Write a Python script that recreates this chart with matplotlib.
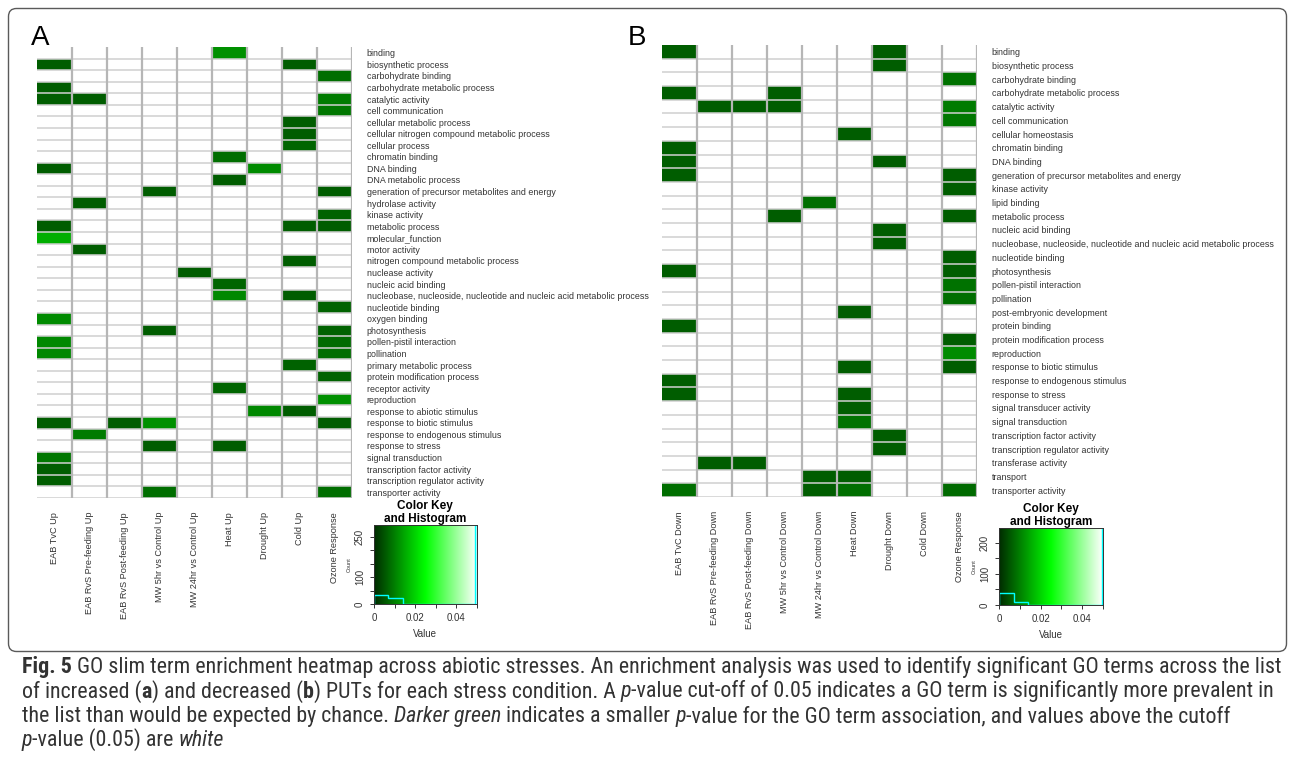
import logging
import numpy as np
import matplotlib
matplotlib.use("Agg")
import matplotlib.pyplot as plt
from matplotlib.colors import LinearSegmentedColormap, Normalize
from matplotlib.patches import FancyBboxPatch
from matplotlib import font_manager

logging.getLogger("matplotlib.font_manager").setLevel(logging.ERROR)

W, H = 1292, 770

# -----------------------------
# data
# -----------------------------
conditions_up = ["EAB TvC Up", "EAB RvS Pre-feeding Up", "EAB RvS Post-feeding Up",
                 "MW 5hr vs Control Up", "MW 24hr vs Control Up", "Heat Up",
                 "Drought Up", "Cold Up", "Ozone Response"]
conditions_down = ["EAB TvC Down", "EAB RvS Pre-feeding Down", "EAB RvS Post-feeding Down",
                   "MW 5hr vs Control Down", "MW 24hr vs Control Down", "Heat Down",
                   "Drought Down", "Cold Down", "Ozone Response"]

terms_up = ["binding", "biosynthetic process", "carbohydrate binding",
            "carbohydrate metabolic process", "catalytic activity", "cell communication",
            "cellular metabolic process", "cellular nitrogen compound metabolic process",
            "cellular process", "chromatin binding", "DNA binding", "DNA metabolic process",
            "generation of precursor metabolites and energy", "hydrolase activity",
            "kinase activity", "metabolic process", "molecular_function", "motor activity",
            "nitrogen compound metabolic process", "nuclease activity", "nucleic acid binding",
            "nucleobase, nucleoside, nucleotide and nucleic acid metabolic process",
            "nucleotide binding", "oxygen binding", "photosynthesis", "pollen-pistil interaction",
            "pollination", "primary metabolic process", "protein modification process",
            "receptor activity", "reproduction", "response to abiotic stimulus",
            "response to biotic stimulus", "response to endogenous stimulus",
            "response to stress", "signal transduction", "transcription factor activity",
            "transcription regulator activity", "transporter activity"]

terms_down = ["binding", "biosynthetic process", "carbohydrate binding",
              "carbohydrate metabolic process", "catalytic activity", "cell communication",
              "cellular homeostasis", "chromatin binding", "DNA binding",
              "generation of precursor metabolites and energy", "kinase activity",
              "lipid binding", "metabolic process", "nucleic acid binding",
              "nucleobase, nucleoside, nucleotide and nucleic acid metabolic process",
              "nucleotide binding", "photosynthesis", "pollen-pistil interaction", "pollination",
              "post-embryonic development", "protein binding", "protein modification process",
              "reproduction", "response to biotic stimulus", "response to endogenous stimulus",
              "response to stress", "signal transducer activity", "signal transduction",
              "transcription factor activity", "transcription regulator activity",
              "transferase activity", "transport", "transporter activity"]

ns = 1.0  # not significant (above the 0.05 cutoff)

pvals_up = [
    [ns, ns, ns, ns, ns, .012, ns, ns, ns],
    [.006, ns, ns, ns, ns, ns, ns, .006, ns],
    [ns, ns, ns, ns, ns, ns, ns, ns, .008],
    [.006, ns, ns, ns, ns, ns, ns, ns, ns],
    [.006, .006, ns, ns, ns, ns, ns, ns, .0095],
    [ns, ns, ns, ns, ns, ns, ns, ns, .009],
    [ns, ns, ns, ns, ns, ns, ns, .006, ns],
    [ns, ns, ns, ns, ns, ns, ns, .006, ns],
    [ns, ns, ns, ns, ns, ns, ns, .007, ns],
    [ns, ns, ns, ns, ns, .008, ns, ns, ns],
    [.006, ns, ns, ns, ns, ns, .0115, ns, ns],
    [ns, ns, ns, ns, ns, .006, ns, ns, ns],
    [ns, ns, ns, .006, ns, ns, ns, ns, .006],
    [ns, .006, ns, ns, ns, ns, ns, ns, ns],
    [ns, ns, ns, ns, ns, ns, ns, ns, .0065],
    [.006, ns, ns, ns, ns, ns, ns, .006, .006],
    [.0155, ns, ns, ns, ns, ns, ns, ns, ns],
    [ns, .006, ns, ns, ns, ns, ns, ns, ns],
    [ns, ns, ns, ns, ns, ns, ns, .006, ns],
    [ns, ns, ns, ns, .006, ns, ns, ns, ns],
    [ns, ns, ns, ns, ns, .007, ns, ns, ns],
    [ns, ns, ns, ns, ns, .011, ns, .006, ns],
    [ns, ns, ns, ns, ns, ns, ns, ns, .0065],
    [.0115, ns, ns, ns, ns, ns, ns, ns, ns],
    [ns, ns, ns, .006, ns, ns, ns, ns, .0065],
    [.011, ns, ns, ns, ns, ns, ns, ns, .0075],
    [.011, ns, ns, ns, ns, ns, ns, ns, .008],
    [ns, ns, ns, ns, ns, ns, ns, .0065, ns],
    [ns, ns, ns, ns, ns, ns, ns, ns, .0065],
    [ns, ns, ns, ns, ns, .007, ns, ns, ns],
    [ns, ns, ns, ns, ns, ns, ns, ns, .012],
    [ns, ns, ns, ns, ns, ns, .011, .006, ns],
    [.006, ns, .006, .012, ns, ns, ns, ns, .006],
    [ns, .0095, ns, ns, ns, ns, ns, ns, ns],
    [ns, ns, ns, .006, ns, .006, ns, ns, ns],
    [.009, ns, ns, ns, ns, ns, ns, ns, ns],
    [.006, ns, ns, ns, ns, ns, ns, ns, ns],
    [.006, ns, ns, ns, ns, ns, ns, ns, ns],
    [ns, ns, ns, .008, ns, ns, ns, ns, .008],
]

pvals_down = [
    [.006, ns, ns, ns, ns, ns, .006, ns, ns],
    [ns, ns, ns, ns, ns, ns, .006, ns, ns],
    [ns, ns, ns, ns, ns, ns, ns, ns, .0085],
    [.006, ns, ns, .006, ns, ns, ns, ns, ns],
    [ns, .006, .006, .006, ns, ns, ns, ns, .0095],
    [ns, ns, ns, ns, ns, ns, ns, ns, .009],
    [ns, ns, ns, ns, ns, .006, ns, ns, ns],
    [.006, ns, ns, ns, ns, ns, ns, ns, ns],
    [.006, ns, ns, ns, ns, ns, .006, ns, ns],
    [.006, ns, ns, ns, ns, ns, ns, ns, .006],
    [ns, ns, ns, ns, ns, ns, ns, ns, .006],
    [ns, ns, ns, ns, .008, ns, ns, ns, ns],
    [ns, ns, ns, .006, ns, ns, ns, ns, .006],
    [ns, ns, ns, ns, ns, ns, .006, ns, ns],
    [ns, ns, ns, ns, ns, ns, .006, ns, ns],
    [ns, ns, ns, ns, ns, ns, ns, ns, .006],
    [.006, ns, ns, ns, ns, ns, ns, ns, .006],
    [ns, ns, ns, ns, ns, ns, ns, ns, .0085],
    [ns, ns, ns, ns, ns, ns, ns, ns, .008],
    [ns, ns, ns, ns, ns, .006, ns, ns, ns],
    [.006, ns, ns, ns, ns, ns, ns, ns, ns],
    [ns, ns, ns, ns, ns, ns, ns, ns, .006],
    [ns, ns, ns, ns, ns, ns, ns, ns, .0115],
    [ns, ns, ns, ns, ns, .006, ns, ns, .006],
    [.006, ns, ns, ns, ns, ns, ns, ns, ns],
    [.006, ns, ns, ns, ns, .006, ns, ns, ns],
    [ns, ns, ns, ns, ns, .006, ns, ns, ns],
    [ns, ns, ns, ns, ns, .0085, ns, ns, ns],
    [ns, ns, ns, ns, ns, ns, .006, ns, ns],
    [ns, ns, ns, ns, ns, ns, .006, ns, ns],
    [ns, .006, .006, ns, ns, ns, ns, ns, ns],
    [ns, ns, ns, ns, .006, .006, ns, ns, ns],
    [.008, ns, ns, ns, .006, .008, ns, ns, .0075],
]

cutoff = 0.05
hist_breaks = [0, 0.007, 0.014, 0.021, 0.028, 0.035, 0.042, 0.0495, 0.05]
key_xticks = [0, 0.01, 0.02, 0.03, 0.04, 0.05]
key_xlabels = ["0", "", "0.02", "", "0.04", ""]
key_ylabels_up = [0, 100, 250]
key_ylabels_down = [0, 100, 200]

caption_lines = [
    [("Fig. 5", "bold", "normal"),
     (" GO slim term enrichment heatmap across abiotic stresses. An enrichment analysis was used "
      "to identify significant GO terms across the list", "normal", "normal")],
    [("of increased (", "normal", "normal"), ("a", "bold", "normal"),
     (") and decreased (", "normal", "normal"), ("b", "bold", "normal"),
     (") PUTs for each stress condition. A ", "normal", "normal"), ("p", "normal", "italic"),
     ("-value cut-off of 0.05 indicates a GO term is significantly more prevalent in", "normal", "normal")],
    [("the list than would be expected by chance. ", "normal", "normal"),
     ("Darker green", "normal", "italic"), (" indicates a smaller ", "normal", "normal"),
     ("p", "normal", "italic"),
     ("-value for the GO term association, and values above the cutoff", "normal", "normal")],
    [("p", "normal", "italic"), ("-value (0.05) are ", "normal", "normal"),
     ("white", "normal", "italic")],
]


def pick_family(names):
    for n in names:
        try:
            font_manager.findfont(n, fallback_to_default=False)
            return n
        except ValueError:
            pass
    return "DejaVu Sans"


plot_font = pick_family(["Liberation Sans", "Arial", "DejaVu Sans"])
caption_font = pick_family(["Liberation Sans Narrow", "Roboto Condensed", "Open Sans Condensed",
                            "Liberation Sans"])
plt.rcParams["font.family"] = plot_font

cmap = LinearSegmentedColormap.from_list("pgreen", ["#002b00", "#00ff00", "#ffffff"])
cmap.set_over("white")
norm = Normalize(0, cutoff)

fig = plt.figure(figsize=(W / 100, H / 100), dpi=100)
bg = fig.add_axes([0, 0, 1, 1], zorder=-1)
bg.set_xlim(0, W)
bg.set_ylim(H, 0)
bg.axis("off")


def px_axes(x0, y0, x1, y1):
    return fig.add_axes([x0 / W, 1 - y1 / H, (x1 - x0) / W, (y1 - y0) / H])


def heatmap(box, terms, conds, vals):
    ax = px_axes(*box)
    data = np.array(vals)
    nr, nc = data.shape
    ax.pcolormesh(data, cmap=cmap, norm=norm)
    ax.set_xlim(0, nc)
    ax.set_ylim(nr, 0)
    ax.hlines(np.arange(1, nr + 1), 0, nc, color="#d0d0d0", lw=1.1)
    ax.vlines(np.arange(1, nc + 1), 0, nr, color="#b6b6b6", lw=1.6)
    for s in ax.spines.values():
        s.set_visible(False)
    ax.set_xticks(np.arange(nc) + 0.5, conds, rotation=90, fontsize=6.6, color="#333333")
    ax.set_yticks(np.arange(nr) + 0.5, terms, fontsize=6.4, color="#333333")
    ax.yaxis.tick_right()
    ax.tick_params(axis="y", length=0, pad=10.5)
    ax.tick_params(axis="x", length=0, pad=10)
    return ax


def color_key(box, vals, ylabels):
    ax = px_axes(*box)
    v = np.clip(np.array(vals).ravel(), 0, cutoff)
    counts, edges = np.histogram(v, bins=hist_breaks)
    top = counts.max()
    grad = np.linspace(0, cutoff, 256)[None, :]
    ax.imshow(grad, cmap=cmap, norm=norm, extent=(0, cutoff, 0, top),
              aspect="auto", interpolation="bilinear")
    ax.stairs(counts, edges, color="cyan", lw=1.0)
    ax.set_xlim(0, cutoff)
    ax.set_ylim(0, top)
    ax.set_xticks(key_xticks, key_xlabels)
    yt = np.arange(0, top + 1, 50)
    ax.set_yticks(yt, [str(t) if t in ylabels else "" for t in yt],
                  rotation=90, va="center")
    ax.tick_params(labelsize=7, colors="#333333", length=3, width=0.7)
    for s in ax.spines.values():
        s.set_linewidth(0.7)
        s.set_color("#333333")
    ax.set_xlabel("Value", fontsize=7, color="#333333", labelpad=4)
    ax.set_ylabel("Count", fontsize=4, color="#333333", labelpad=2)
    ax.set_title("Color Key\nand Histogram", fontsize=8.5, fontweight="bold", pad=-1,
                 linespacing=1.1)
    return ax


# panels
heatmap((37, 47, 352, 498), terms_up, conditions_up, pvals_up)
heatmap((662, 45, 977, 497), terms_down, conditions_down, pvals_down)
color_key((374, 525, 476.5, 604), pvals_up, key_ylabels_up)
color_key((999, 528, 1103, 605), pvals_down, key_ylabels_down)

bg.text(40, 38, "A", fontsize=20, ha="center", va="center", color="black")
bg.text(637, 38, "B", fontsize=20, ha="center", va="center", color="black")

# frame around the figure body
bg.add_patch(FancyBboxPatch((8.5, 8.5), 1278, 643, boxstyle="round,pad=0,rounding_size=8",
                            fill=False, ec="#5a5a5a", lw=1.0))

# caption, drawn run by run so bold/italic pieces sit inline
renderer = fig.canvas.get_renderer()


def line_width(runs, size):
    w = 0
    for s, weight, style in runs:
        t = bg.text(0, 0, s, fontsize=size, fontweight=weight, fontstyle=style,
                    family=caption_font)
        w += t.get_window_extent(renderer).width
        t.remove()
    return w


cap_size = 12.0 * 1256 / line_width(caption_lines[0], 12.0)
baselines = [673, 697.5, 722, 746, 770]
for runs, yb in zip(caption_lines, baselines):
    x = 22
    for s, weight, style in runs:
        t = bg.text(x, yb, s, fontsize=cap_size, fontweight=weight, fontstyle=style,
                    family=caption_font, color="#333333", va="baseline")
        x += t.get_window_extent(renderer).width

fig.savefig("out.png", dpi=100)
